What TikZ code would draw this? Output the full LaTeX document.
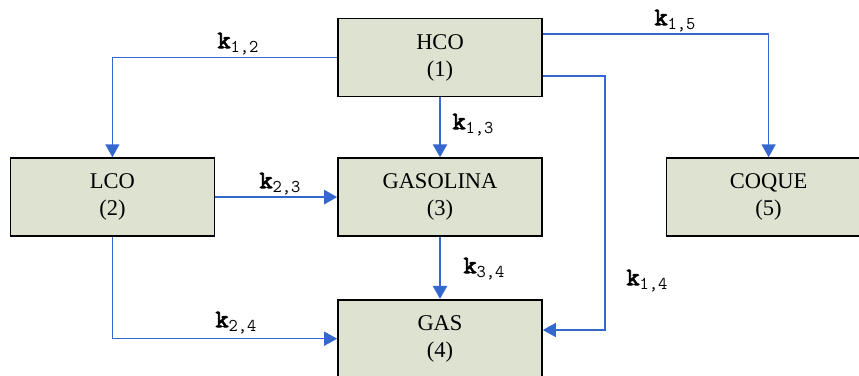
\documentclass[tikz,border=0pt]{standalone}
\usepackage{fontspec}
\setmainfont{Liberation Serif}
\newfontfamily\ratebold{Latin Modern Mono}[FakeBold=3.5]
\usetikzlibrary{arrows.meta,positioning}
\definecolor{boxfill}{RGB}{222,227,209}
\definecolor{flowblue}{RGB}{52,104,206}
\newcommand{\rateconst}[2]{{\ratebold k}\raisebox{-4.5pt}{\ttfamily\fontsize{18}{20}\selectfont #1,#2}}

\begin{document}
\begin{tikzpicture}[
    x=1pt, y=-1pt,
    font=\fontsize{22.5}{27}\selectfont,
    species/.style={draw, line width=1.6pt, fill=boxfill, minimum width=204pt, minimum height=78pt, align=center, inner sep=0pt},
    flow/.style={-{Triangle[length=13pt,width=14pt]}, line width=1.5pt, draw=flowblue},
    mainflow/.style={flow, line width=2.4pt},
    rate/.style={font=\fontsize{25}{27}\selectfont, inner sep=1pt}
]
\useasboundingbox (0,0) rectangle (859,375);

\node[species] (hco) at (440,57.5) {HCO\\(1)};
\node[species, below=60pt of hco] (gaso) {GASOLINA\\(3)};
\node[species, below=62pt of gaso] (gas) {GAS\\(4)};
\node[species, left=122pt of gaso] (lco) {LCO\\(2)};
\node[species, right=123pt of gaso] (coque) {COQUE\\(5)};

\coordinate (k14bend) at (605,330);

\draw[flow] (hco.west) -| (lco.north);
\draw[mainflow] (hco.south) -- (gaso.north);
\draw[flow] ([yshift=23.5pt]hco.east) -| (coque.north);
\draw[flow] ([yshift=-18.5pt]hco.east) -| (k14bend) -- (gas.east |- k14bend);
\draw[mainflow] (lco.east) -- (gaso.west);
\draw[mainflow] (gaso.south) -- (gas.north);
\draw[flow] (lco.south) |- (gas.west);

\node[rate] (k12) at (238,44) {\rateconst{1}{2}};
\node[rate] (k13) at (473,125) {\rateconst{1}{3}};
\node[rate] (k15) at (675,21) {\rateconst{1}{5}};
\node[rate] (k14) at (647,281) {\rateconst{1}{4}};
\node[rate] (k23) at (280,184) {\rateconst{2}{3}};
\node[rate] (k34) at (484,269) {\rateconst{3}{4}};
\node[rate] (k24) at (236,323) {\rateconst{2}{4}};
\end{tikzpicture}
\end{document}
